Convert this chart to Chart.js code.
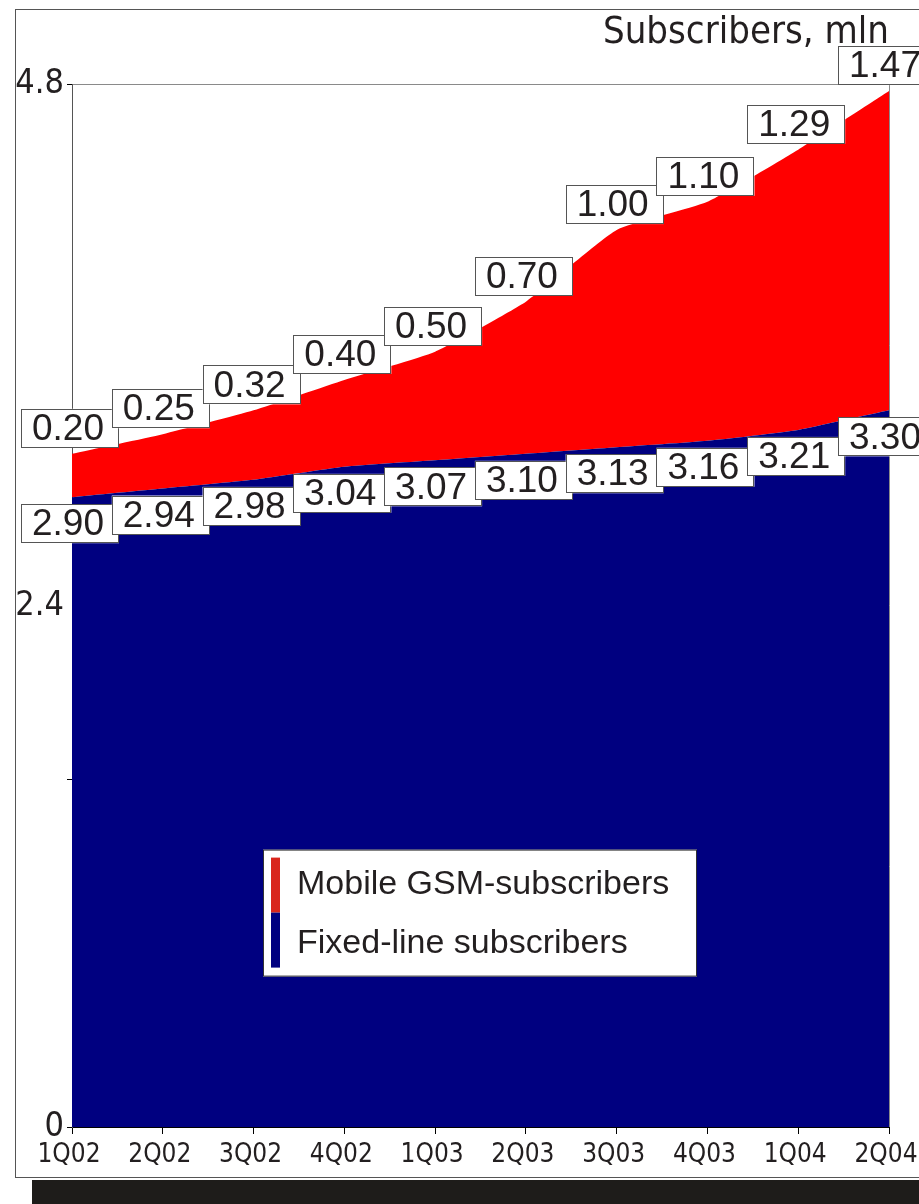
<!DOCTYPE html>
<html>
<head>
<meta charset="utf-8">
<title>Subscribers, mln</title>
<script src="https://cdn.jsdelivr.net/npm/chart.js@4.4.1/dist/chart.umd.min.js"></script>
<style>
  html, body { margin: 0; padding: 0; background: #fff; }
  body { width: 919px; height: 1204px; position: relative; overflow: hidden; }
  #frame { position: absolute; left: 15px; top: 9px; width: 930px; height: 1169px; border: 1px solid #555; box-sizing: border-box; }
  #shadow { position: absolute; left: 32px; top: 1180px; width: 900px; height: 30px; background: #1e1c1a; }
  #chart { position: absolute; left: 0; top: 0; }
</style>
</head>
<body>
<div id="frame"></div>
<div id="shadow"></div>
<canvas id="chart" width="919" height="1204"></canvas>
<script>
// quarters on the x axis
const quarters = ['1Q02', '2Q02', '3Q02', '4Q02', '1Q03', '2Q03', '3Q03', '4Q03', '1Q04', '2Q04'];
// subscribers, mln
const fixedLine = [2.90, 2.94, 2.98, 3.04, 3.07, 3.10, 3.13, 3.16, 3.21, 3.30];
const mobileGsm = [0.20, 0.25, 0.32, 0.40, 0.50, 0.70, 1.00, 1.10, 1.29, 1.47];
// y axis: labelled values and values with a tick mark
const yLabelled = [0, 2.4, 4.8];
const yMarks = [0, 1.6, 3.2, 4.8];
const yMax = 4.8;

const NARROW = '"Liberation Sans Narrow", "DejaVu Sans Condensed", "Arial Narrow", sans-serif';
const WIDE = '"Liberation Sans", Arial, Helvetica, sans-serif';
const INK = '#231f20';
const NAVY = '#000080';
const RED = '#ff0000';

const overlay = {
  id: 'overlay',
  afterDatasetsDraw(chart) {
    const ctx = chart.ctx;
    const area = chart.chartArea;
    const xs = chart.scales.x, ys = chart.scales.y;
    ctx.save();

    // right edge of the plot
    ctx.strokeStyle = '#8a8a8a';
    ctx.lineWidth = 1;
    ctx.beginPath();
    ctx.moveTo(Math.round(area.right) + 0.5, area.top);
    ctx.lineTo(Math.round(area.right) + 0.5, area.bottom);
    ctx.stroke();

    // legend box
    const lx = area.left + 191, ly = area.top + 765, lw = 434, lh = 127;
    ctx.fillStyle = '#fff';
    ctx.fillRect(lx, ly, lw, lh);
    ctx.strokeStyle = '#333';
    ctx.strokeRect(lx + 0.5, ly + 0.5, lw - 1, lh - 1);
    ctx.fillStyle = '#d9261c';
    ctx.fillRect(lx + 8, ly + 8, 9, 55);
    ctx.fillStyle = NAVY;
    ctx.fillRect(lx + 8, ly + 63, 9, 55);
    ctx.fillStyle = INK;
    ctx.font = '34px ' + WIDE;
    ctx.textAlign = 'left';
    ctx.textBaseline = 'middle';
    ctx.fillText('Mobile GSM-subscribers', lx + 34, ly + 35);
    ctx.fillText('Fixed-line subscribers', lx + 34, ly + 94);

    // value boxes
    ctx.font = '37px ' + WIDE;
    ctx.textAlign = 'center';
    function box(cx, top, text) {
      ctx.fillStyle = '#fff';
      ctx.fillRect(cx - 49, top, 98, 39);
      ctx.strokeStyle = '#555';
      ctx.strokeRect(Math.round(cx - 49) + 0.5, Math.round(top) + 0.5, 97, 38);
      ctx.fillStyle = INK;
      ctx.fillText(text, cx - 2, top + 21);
    }
    fixedLine.forEach((v, i) => {
      box(xs.getPixelForValue(i) - 2, ys.getPixelForValue(v) + 7, v.toFixed(2));
    });
    mobileGsm.forEach((v, i) => {
      box(xs.getPixelForValue(i) - 2, ys.getPixelForValue(fixedLine[i] + v) - 45, v.toFixed(2));
    });
    ctx.restore();
  }
};

new Chart(document.getElementById('chart'), {
  type: 'line',
  data: {
    labels: quarters,
    datasets: [
      {
        label: 'Fixed-line subscribers',
        data: fixedLine,
        backgroundColor: NAVY,
        borderWidth: 0,
        pointRadius: 0,
        tension: 0.15,
        fill: 'origin'
      },
      {
        label: 'Mobile GSM-subscribers',
        data: mobileGsm,
        backgroundColor: RED,
        borderWidth: 0,
        pointRadius: 0,
        tension: 0.15,
        fill: '-1'
      }
    ]
  },
  options: {
    responsive: false,
    animation: false,
    layout: { padding: { left: 0, right: 30, top: 0, bottom: 27 } },
    plugins: {
      legend: { display: false },
      tooltip: { enabled: false },
      title: {
        display: true,
        text: 'Subscribers, mln',
        align: 'end',
        color: INK,
        font: { family: NARROW, size: 38, weight: 'normal', lineHeight: 1.2 },
        padding: { top: 10, bottom: 29 }
      }
    },
    scales: {
      x: {
        afterFit: s => {
          s.height = 50;
          // let the end labels hang past the plot edges
          s.paddingLeft = 0;
          s.paddingRight = 0;
        },
        ticks: { color: INK, font: { family: NARROW, size: 26 }, padding: 6, labelOffset: -3, maxRotation: 0, autoSkip: false },
        grid: { drawOnChartArea: false, tickLength: 7, tickColor: '#000' },
        border: { color: '#000' }
      },
      y: {
        stacked: true,
        min: 0,
        max: yMax,
        afterFit: s => { s.width = 72; },
        afterBuildTicks: s => {
          s.ticks = [...new Set([...yMarks, ...yLabelled])].sort((a, b) => a - b).map(v => ({ value: v }));
        },
        ticks: {
          color: INK,
          font: { family: NARROW, size: 34 },
          padding: 3,
          callback: v => yLabelled.includes(v) ? String(v) : ''
        },
        grid: {
          color: c => c.tick && c.tick.value === yMax ? '#8a8a8a' : 'rgba(0,0,0,0)',
          tickColor: c => c.tick && yMarks.includes(c.tick.value) ? '#000' : 'rgba(0,0,0,0)',
          tickLength: 5
        },
        border: { color: '#555' }
      }
    }
  },
  plugins: [overlay]
});
</script>
</body>
</html>
